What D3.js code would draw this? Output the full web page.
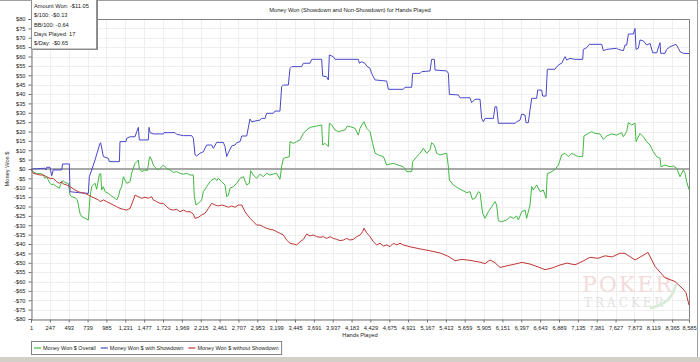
<!DOCTYPE html>
<html>
<head>
<meta charset="utf-8">
<script src="https://cdn.jsdelivr.net/npm/d3@7/dist/d3.min.js"></script>
<style>
  body { margin: 0; background: #fff; }
  svg { display: block; }
  text { font-family: Tahoma, "Liberation Sans", Arial, sans-serif; font-size: 5.7px; fill: #222; }
</style>
</head>
<body>
<script>
// hands played vs money won
const blueHands = [1,184,197,205,249,271,292,401,414,501,510,619,749,762,793,836,901,910,945,1010,1023,1154,1162,1240,1249,1293,1358,1380,1401,1414,1532,1541,1554,1597,1728,1736,1880,1902,1989,2097,2119,2141,2162,2206,2249,2293,2358,2380,2423,2510,2532,2554,2576,2619,2663,2684,2728,2750,2815,2858,2880,2989,3010,3054,3075,3163,3184,3249,3271,3293,3358,3380,3402,3532,3554,3641,3663,3793,3806,3858,3880,3893,3945,3967,4271,4285,4315,4358,4380,4424,4445,4467,4489,4641,4663,4858,4880,4967,4980,5076,5098,5206,5228,5263,5272,5424,5446,5459,5576,5598,5728,5750,5793,5859,5880,5902,5924,6033,6054,6076,6098,6315,6337,6381,6402,6446,6459,6489,6511,6533,6598,6611,6663,6676,6720,6737,6837,6859,6902,6924,6968,6989,7033,7098,7198,7207,7250,7285,7446,7468,7511,7642,7663,7729,7750,7772,7794,7859,7881,7894,7924,7946,7990,8033,8077,8111,8164,8207,8216,8272,8294,8338,8416,8446,8468,8511,8585];
const blueWon = [0,0.4,-0.5,0.9,0.9,-3.6,-0.5,-0.5,2.7,2.7,-12.1,-12.6,-13,-4.1,-0.5,4.8,13.7,14,6.6,5.7,3.9,3.9,14.6,14.6,16.4,17.2,17.2,19.9,22.2,15.5,15.5,22.2,19.4,18.7,18.7,19.4,19.4,18.5,17.8,17.8,16.4,7.5,6.9,8.4,9.2,12.8,12.8,11,14.2,14.2,11.9,6.6,8.7,12.3,12.8,14,14.6,17.6,17.6,26.7,25.2,26.1,27,27,29.7,29.7,30.9,30.9,43.9,44.8,44.8,53.7,54.6,54.6,56.4,56.4,58.5,58.5,49.6,49.2,47.5,60.8,59.9,58.5,58.5,56.4,57.2,56.4,54.9,53.7,51,49.2,47.5,46.9,42.5,42.5,43.6,43.6,51,51,51.9,52.3,58.5,58.5,52.8,52.3,51,39.8,39.5,38,38,35.4,37.2,37.2,27,25.2,27,27,33.2,33.2,24.4,24.4,25.2,26.1,29.3,28.8,24.7,24.7,31.5,37.7,37.7,42.1,42.1,38.9,38.9,53.2,53.2,54.6,56,56.4,59.9,58.1,59,58.5,58.5,63.8,64.7,66.5,66.5,63.1,63.8,64.4,63.8,63.1,66.1,66.1,72,72,75,63.8,64.4,68.8,68.3,66.1,67,62,62,67.4,61.7,61.7,63.8,65.2,66.5,64.4,62.6,61.7,61.6];

const greenHands = [1,31,75,118,162,184,205,249,271,292,336,371,401,423,445,488,510,532,575,606,632,640,662,706,749,762,771,793,836,858,893,910,923,945,967,1010,1053,1097,1119,1140,1162,1184,1206,1227,1249,1293,1314,1336,1358,1380,1401,1414,1445,1488,1519,1545,1554,1575,1597,1619,1662,1706,1728,1771,1815,1858,1902,1945,1989,2032,2076,2119,2132,2154,2184,2228,2249,2293,2336,2358,2402,2423,2445,2489,2532,2554,2576,2597,2641,2684,2728,2771,2815,2850,2867,2902,2945,2989,3032,3075,3119,3163,3206,3249,3271,3293,3371,3380,3423,3467,3510,3554,3597,3641,3728,3793,3806,3837,3880,3893,3924,3967,4010,4054,4097,4128,4163,4228,4271,4293,4345,4380,4424,4458,4489,4532,4598,4641,4685,4728,4793,4858,4902,4967,4980,5033,5076,5120,5163,5206,5228,5263,5293,5337,5424,5446,5459,5511,5576,5620,5685,5728,5759,5794,5837,5859,5893,5924,5967,6011,6054,6076,6098,6141,6207,6250,6294,6337,6359,6402,6446,6467,6511,6533,6554,6598,6641,6685,6720,6737,6772,6837,6881,6924,6968,7011,7055,7098,7142,7198,7215,7272,7316,7359,7424,7468,7511,7577,7642,7707,7729,7772,7794,7837,7881,7894,7946,7990,8033,8077,8120,8164,8207,8220,8272,8338,8381,8424,8468,8511,8533,8555,8585];
const greenWon = [0,-1.4,-2.7,-2.3,-3.2,-5,-4.1,-7.6,-8.5,-8,-9.4,-10.3,-6.8,-6.2,-7.3,-7.6,-13.9,-14.8,-15.3,-16.5,-21.9,-23.6,-25.4,-26.3,-27.2,-20.1,-14.8,-9.4,-7.6,-10.8,-2.8,-2.3,-11.2,-9.4,-12.1,-13,-14.4,-15.6,-16.5,-14.8,-11.2,-9.4,-4.1,-5.9,-7.6,-6.8,-2.3,0.4,3,3.9,4.8,0.4,-1.4,-0.5,-0.9,5.7,6.6,4.8,2.1,0.9,-0.5,1.2,2.1,0.4,-0.5,-1.8,-1.4,-2.3,-2.8,-2.3,-3.2,-3.2,-14.8,-19.2,-18.3,-16.5,-12.1,-9.4,-6.8,-5.9,-5,-6.2,-5,-6.8,-8.5,-14.8,-13.9,-10.3,-9.4,-7.6,-5,-4.1,-8.5,-7.6,-0.9,-3.2,-5,-2.7,-4.1,-2.3,-3.2,-2.7,-2.3,-5.5,1.2,5.7,6.6,14.6,13.7,14.6,15.5,19,20.8,22.2,22.9,23.5,12.8,13.7,11.9,24.4,23.5,20.8,19.9,20.4,20.8,22.9,22.6,21.7,18.1,21.7,25.2,21.7,19.9,13.7,8.4,7.5,6.6,2.1,2.7,3,2.1,1.2,-1.4,-1.4,3.9,6.6,8.4,11,8.4,10.2,14,12.8,8.4,7.5,8.4,1.2,-5.9,-8.5,-10.3,-11.2,-12.6,-12.1,-16.2,-15.6,-12.1,-12.6,-23.6,-26.3,-22.8,-20.1,-17.4,-19.2,-27.6,-28.1,-27.2,-25.4,-26.3,-25.1,-27.2,-22.8,-21.9,-26.3,-19.2,-9.4,-11.2,-8.5,-12.1,-11.2,-15.6,-2.3,-2,-0.2,2.1,7.5,8.4,6.6,8.4,7.5,6.6,6.6,17.6,19,19.9,19,18.7,15.8,17.6,18.7,18.1,19.4,17.2,19.9,24.7,23.5,24.4,14.6,19,17.2,14.6,12.8,9.2,6.6,5.7,1.2,2.1,1.2,1.6,0.4,-4.1,-0.5,-2.3,-6.8,-11];

const redHands = [1,31,75,118,162,205,249,292,336,371,401,423,466,510,575,619,662,706,749,793,836,880,901,945,988,1032,1075,1119,1162,1206,1249,1293,1336,1358,1401,1445,1488,1532,1575,1597,1641,1684,1728,1771,1815,1858,1902,1945,1989,2032,2076,2119,2141,2184,2228,2271,2315,2358,2402,2445,2489,2532,2576,2619,2663,2706,2750,2793,2858,2902,2945,2989,3032,3075,3119,3163,3206,3249,3293,3336,3380,3423,3467,3510,3554,3597,3641,3684,3728,3771,3815,3858,3902,3945,3989,4032,4076,4119,4163,4206,4250,4293,4328,4345,4380,4424,4467,4511,4554,4598,4641,4685,4728,4772,4815,4858,4946,5076,5206,5337,5441,5533,5624,5728,5859,5924,5989,6054,6120,6224,6315,6407,6511,6615,6707,6798,6902,6994,7098,7189,7294,7398,7490,7581,7685,7750,7881,7946,8051,8142,8272,8403,8507,8546,8585];
const redWon = [0,-2.3,-2.7,-3.2,-3.2,-4.1,-5,-5,-6.8,-7.6,-6.8,-8,-8.5,-9.4,-11.2,-12.1,-12.6,-13,-13.9,-14.8,-15.6,-16.5,-17.4,-16.5,-17.4,-18.3,-19.2,-20.1,-21,-21.5,-21.9,-21,-16.5,-13.9,-14.8,-15.6,-15.1,-15.6,-14.8,-16.5,-17.4,-18.3,-18.3,-20.1,-21.5,-21.9,-21.5,-22.8,-21.9,-22.8,-22.8,-24,-26.3,-25.8,-24.5,-23.6,-21,-18.3,-19.2,-19.7,-19.2,-19.7,-20.4,-19.7,-20.4,-19.2,-19.2,-22.8,-26.3,-28.1,-29.9,-29.9,-30.8,-31.6,-32.2,-32.5,-33.4,-34.3,-35.2,-37.9,-39.6,-40,-40.5,-38.8,-37.5,-34.7,-35.7,-35.2,-36.1,-36.4,-36.1,-37,-36.1,-37,-37.5,-38.2,-37.9,-37,-37.9,-37.5,-36.1,-35.2,-33.4,-31.6,-34,-36.1,-38.8,-40.5,-39.6,-41.1,-40.5,-41.4,-39.6,-40.5,-39.6,-40.5,-41.5,-42.6,-43.6,-44.8,-46.5,-48.9,-48.2,-48.7,-49.7,-50.5,-48.5,-50,-52.5,-51.5,-50.7,-49.8,-50.7,-52.2,-53.7,-52.8,-51.2,-50.2,-51.1,-49.4,-47.1,-47.6,-46.3,-46.9,-44.9,-45,-48.5,-47,-44.5,-52,-58,-60,-64,-66,-72.6];

const xTicks = [1,247,493,739,985,1231,1477,1723,1969,2215,2461,2707,2953,3199,3445,3691,3937,4183,4429,4675,4921,5167,5413,5659,5905,6151,6397,6643,6889,7135,7381,7627,7873,8119,8365,8585];
const yTicks = d3.range(-80, 81, 5);

const seriesNames = ['Money Won $ Overall', 'Money Won $ with Showdown', 'Money Won $ without Showdown'];
const seriesColors = ['#42b842', '#4848cc', '#c03636'];
const infoLines = ['Amount Won: -$11.05', '$/100: -$0.13', 'BB/100: -0.64', 'Days Played: 17', '$/Day: -$0.65'];

const W = 700, H = 362;
const plotL = 31, plotR = 689, plotT = 19, plotB = 319;

const svg = d3.select('body').append('svg')
  .attr('width', W)
  .attr('height', H)

const x = d3.scaleLinear().domain([1, 8585]).range([plotL, plotR])
const y = d3.scaleLinear().domain([-80, 80]).range([plotB, plotT])

// window frame bits
svg.append('rect').attr('x', 0).attr('y', 357).attr('width', W).attr('height', 5).attr('fill', '#d4d0c8')
svg.append('line').attr('x1', 0).attr('x2', 698).attr('y1', 0.5).attr('y2', 0.5).attr('stroke', '#a0a0a0')
svg.append('line').attr('x1', 697.5).attr('x2', 697.5).attr('y1', 0).attr('y2', 357).attr('stroke', '#a0a0a0')

// grid
svg.append('g').selectAll('line')
  .data(yTicks)
  .enter().append('line')
  .attr('x1', plotL).attr('x2', plotR)
  .attr('y1', d => Math.round(y(d)) + 0.5).attr('y2', d => Math.round(y(d)) + 0.5)
  .attr('stroke', '#efefef')

svg.append('g').selectAll('line')
  .data(xTicks)
  .enter().append('line')
  .attr('x1', d => Math.round(x(d)) + 0.5).attr('x2', d => Math.round(x(d)) + 0.5)
  .attr('y1', plotT).attr('y2', plotB)
  .attr('stroke', '#efefef')

// watermark
const wm = svg.append('g')
wm.append('text').attr('x', 582).attr('y', 292)
  .style('font-family', '"DejaVu Serif", "Liberation Serif", serif').style('font-size', '22px')
  .style('fill', '#f3dcdc').style('letter-spacing', '2px')
  .text('POKER')
wm.append('text').attr('x', 584).attr('y', 307)
  .style('font-family', '"DejaVu Serif", "Liberation Serif", serif').style('font-size', '12px')
  .style('fill', '#dfe3df').style('letter-spacing', '3px')
  .text('TRACKER')
wm.append('path').attr('d', 'M650,308 Q672,304 676,284')
  .attr('fill', 'none').attr('stroke', '#d6ead6').attr('stroke-width', 2.5)

// zero line
svg.append('line')
  .attr('x1', plotL).attr('x2', plotR)
  .attr('y1', y(0)).attr('y2', y(0))
  .attr('stroke', '#a8a8a8').attr('stroke-width', 2)

// series
const line = d3.line().x(d => x(d[0])).y(d => y(d[1]))
const series = [
  d3.zip(greenHands, greenWon),
  d3.zip(blueHands, blueWon),
  d3.zip(redHands, redWon)
]
svg.append('g').selectAll('path')
  .data(series)
  .enter().append('path')
  .attr('d', line)
  .attr('fill', 'none')
  .attr('stroke', (d, i) => seriesColors[i])
  .attr('stroke-width', 1)

// plot frame
svg.append('path')
  .attr('d', `M${plotL},${plotT + 0.5}H${plotR + 0.5}V${plotB}`)
  .attr('fill', 'none').attr('stroke', '#808080')

// axes
const yAxis = d3.axisLeft(y).tickValues(yTicks).tickSize(3).tickPadding(3)
  .tickFormat(d => (d < 0 ? '-$' : '$') + Math.abs(d))
svg.append('g').attr('transform', `translate(${plotL + 0.5},0)`).call(yAxis)

const xAxis = d3.axisBottom(x).tickValues(xTicks).tickSize(3).tickPadding(3)
  .tickFormat(d3.format(','))
svg.append('g').attr('transform', `translate(0,${plotB + 0.5})`).call(xAxis)

svg.selectAll('.domain').attr('stroke', '#707070')
svg.selectAll('.tick line').attr('stroke', '#707070')
svg.selectAll('.tick text').style('font-family', 'Tahoma, "Liberation Sans", Arial, sans-serif').style('font-size', '5.7px').style('fill', '#222')

// titles
svg.append('text').attr('x', 350).attr('y', 12).attr('text-anchor', 'middle')
  .text('Money Won (Showdown and Non-Showdown) for Hands Played')
svg.append('text').attr('x', 360).attr('y', 337).attr('text-anchor', 'middle')
  .text('Hands Played')
svg.append('text').attr('transform', `translate(9,${y(0)}) rotate(-90)`).attr('text-anchor', 'middle')
  .text('Money Won $')

// info box
svg.append('rect').attr('x', 33).attr('y', -1).attr('width', 65).attr('height', 51).attr('fill', '#888')
svg.append('rect').attr('x', 31.5).attr('y', -1).attr('width', 65).attr('height', 50).attr('fill', '#fff').attr('stroke', '#909090')
svg.append('g').selectAll('text')
  .data(infoLines)
  .enter().append('text')
  .attr('x', 34)
  .attr('y', (d, i) => 8 + i * 9.3)
  .text(d => d)

// legend, items laid out one after another
const legend = svg.append('g')
const legBox = legend.append('rect').attr('x', 31.5).attr('y', 341.5).attr('height', 13)
  .attr('fill', '#fff').attr('stroke', '#808080')
let legPos = 34
seriesNames.forEach((name, i) => {
  const g = legend.append('g').attr('transform', `translate(${legPos},348)`)
  g.append('line').attr('x1', 0).attr('x2', 7).attr('stroke', seriesColors[i]).attr('stroke-width', 1.2)
  const t = g.append('text').attr('x', 9).attr('y', 2).style('font-size', '5.5px').text(name)
  legPos += 9 + t.node().getComputedTextLength() + 5
})
legBox.attr('width', legPos - 2 - 31.5)
</script>
</body>
</html>
